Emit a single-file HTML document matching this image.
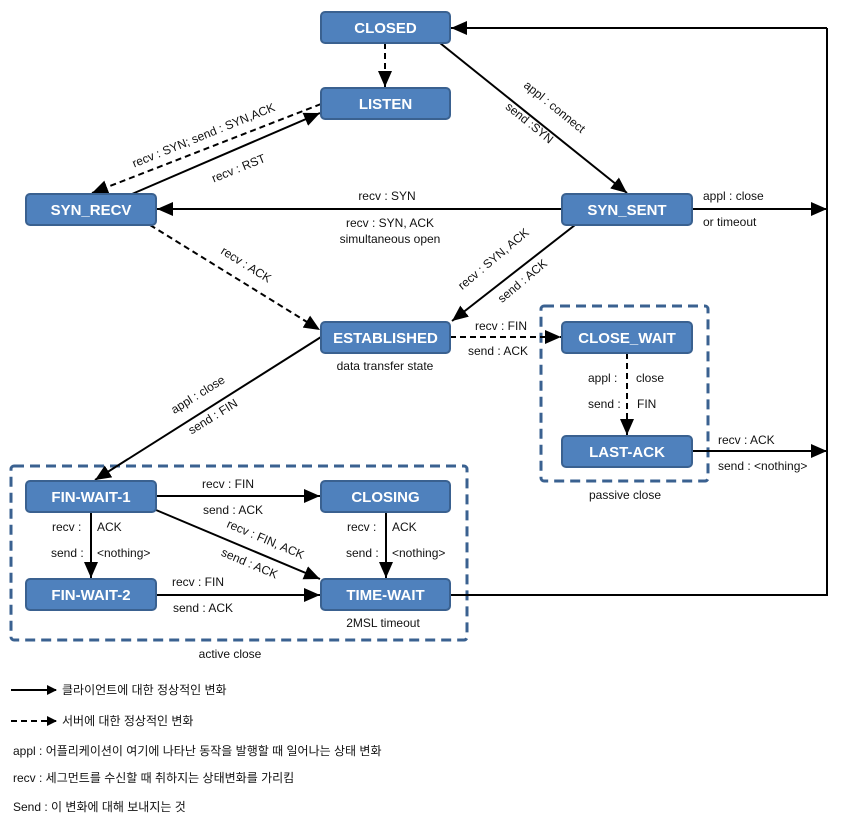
<!DOCTYPE html>
<html><head><meta charset="utf-8"><style>
body{margin:0;background:#fff;}
svg{display:block;}
text{font-family:"Liberation Sans","Noto Sans CJK KR",sans-serif;font-size:12px;fill:#111;}
.b{fill:#4f81bd;stroke:#3a6190;stroke-width:2;}
.bt{font-size:15px;font-weight:bold;fill:#fff;text-anchor:middle;}
.l{stroke:#000;stroke-width:2;fill:none;}
.d{stroke:#000;stroke-width:2;fill:none;stroke-dasharray:6,4;}
.g{stroke:#3a6190;stroke-width:3;fill:none;stroke-dasharray:10,6;}
.c{text-anchor:middle;}
</style></head><body>
<svg width="850" height="840" viewBox="0 0 850 840">
<defs><marker id="a" markerWidth="10" markerHeight="10" refX="9" refY="5" orient="auto" markerUnits="userSpaceOnUse" viewBox="0 0 10 10"><path d="M0,0 L10,5 L0,10 z" fill="#000"/></marker>
<marker id="m" markerWidth="16" markerHeight="14" refX="16" refY="7" orient="auto" markerUnits="userSpaceOnUse"><path d="M0,0 L16,7 L0,14 z" fill="#000"/></marker></defs>

<rect class="g" x="541" y="306" width="167" height="175" rx="3"/>
<rect class="g" x="11" y="466" width="456" height="174" rx="3"/>

<line class="d" x1="385" y1="43" x2="385" y2="87" marker-end="url(#m)"/>
<line class="d" x1="321" y1="104" x2="92" y2="193" marker-end="url(#m)"/>
<line class="l" x1="132" y1="194" x2="320" y2="113" marker-end="url(#m)"/>
<line class="l" x1="440" y1="43" x2="627" y2="193" marker-end="url(#m)"/>
<line class="l" x1="562" y1="209" x2="157" y2="209" marker-end="url(#m)"/>
<line class="l" x1="692" y1="209" x2="827" y2="209" marker-end="url(#m)"/>
<line class="d" x1="150" y1="225" x2="320" y2="330" marker-end="url(#m)"/>
<line class="l" x1="575" y1="225" x2="452" y2="321" marker-end="url(#m)"/>
<line class="d" x1="450" y1="337" x2="561" y2="337" marker-end="url(#m)"/>
<line class="d" x1="627" y1="353" x2="627" y2="435" marker-end="url(#m)"/>
<line class="l" x1="692" y1="451" x2="827" y2="451" marker-end="url(#m)"/>
<line class="l" x1="321" y1="337" x2="95" y2="480" marker-end="url(#m)"/>
<line class="l" x1="156" y1="496" x2="320" y2="496" marker-end="url(#m)"/>
<line class="l" x1="91" y1="512" x2="91" y2="578" marker-end="url(#m)"/>
<line class="l" x1="156" y1="510" x2="320" y2="579" marker-end="url(#m)"/>
<line class="l" x1="386" y1="512" x2="386" y2="578" marker-end="url(#m)"/>
<line class="l" x1="156" y1="595" x2="320" y2="595" marker-end="url(#m)"/>
<polyline class="l" points="450,595 827,595 827,28"/>
<line class="l" x1="827" y1="28" x2="451" y2="28" marker-end="url(#m)"/>

<g>
<rect class="b" x="321" y="12" width="129" height="31" rx="4"/><text class="bt" x="385.5" y="33">CLOSED</text>
<rect class="b" x="321" y="88" width="129" height="31" rx="4"/><text class="bt" x="385.5" y="109">LISTEN</text>
<rect class="b" x="26" y="194" width="130" height="31" rx="4"/><text class="bt" x="91" y="215">SYN_RECV</text>
<rect class="b" x="562" y="194" width="130" height="31" rx="4"/><text class="bt" x="627" y="215">SYN_SENT</text>
<rect class="b" x="321" y="322" width="129" height="31" rx="4"/><text class="bt" x="385.5" y="343">ESTABLISHED</text>
<rect class="b" x="562" y="322" width="130" height="31" rx="4"/><text class="bt" x="627" y="343">CLOSE_WAIT</text>
<rect class="b" x="562" y="436" width="130" height="31" rx="4"/><text class="bt" x="627" y="457">LAST-ACK</text>
<rect class="b" x="26" y="481" width="130" height="31" rx="4"/><text class="bt" x="91" y="502">FIN-WAIT-1</text>
<rect class="b" x="321" y="481" width="129" height="31" rx="4"/><text class="bt" x="385.5" y="502">CLOSING</text>
<rect class="b" x="26" y="579" width="130" height="31" rx="4"/><text class="bt" x="91" y="600">FIN-WAIT-2</text>
<rect class="b" x="321" y="579" width="129" height="31" rx="4"/><text class="bt" x="385.5" y="600">TIME-WAIT</text>
</g>

<text class="c" transform="translate(205,139) rotate(-22)">recv : SYN; send : SYN,ACK</text>
<text class="c" transform="translate(240,172) rotate(-22)">recv : RST</text>
<text class="c" transform="translate(552,110) rotate(39)">appl : connect</text>
<text class="c" transform="translate(527,126) rotate(39)">send :SYN</text>
<text class="c" x="387" y="200">recv : SYN</text>
<text class="c" x="390" y="227">recv : SYN, ACK</text>
<text class="c" x="390" y="243">simultaneous open</text>
<text x="703" y="200">appl : close</text>
<text x="703" y="226">or timeout</text>
<text class="c" transform="translate(244,268) rotate(32)">recv : ACK</text>
<text class="c" transform="translate(496,262) rotate(-40)">recv : SYN, ACK</text>
<text class="c" transform="translate(525,284) rotate(-40)">send : ACK</text>
<text x="475" y="330">recv : FIN</text>
<text x="468" y="355">send : ACK</text>
<text class="c" x="385" y="370">data transfer state</text>
<text x="588" y="382">appl :</text><text x="636" y="382">close</text>
<text x="588" y="408">send :</text><text x="637" y="408">FIN</text>
<text x="718" y="444">recv : ACK</text>
<text x="718" y="470">send : &lt;nothing&gt;</text>
<text class="c" x="625" y="499">passive close</text>
<text class="c" transform="translate(200,398) rotate(-32)">appl : close</text>
<text class="c" transform="translate(215,420) rotate(-32)">send : FIN</text>
<text x="202" y="488">recv : FIN</text>
<text x="203" y="514">send : ACK</text>
<text x="52" y="531">recv :</text><text x="97" y="531">ACK</text>
<text x="51" y="557">send :</text><text x="97" y="557">&lt;nothing&gt;</text>
<text class="c" transform="translate(264,543) rotate(23)">recv : FIN, ACK</text>
<text class="c" transform="translate(248,567) rotate(23)">send : ACK</text>
<text x="347" y="531">recv :</text><text x="392" y="531">ACK</text>
<text x="346" y="557">send :</text><text x="392" y="557">&lt;nothing&gt;</text>
<text x="172" y="586">recv : FIN</text>
<text x="173" y="612">send : ACK</text>
<text class="c" x="383" y="627">2MSL timeout</text>
<text class="c" x="230" y="658">active close</text>

<line class="l" x1="11" y1="690" x2="56" y2="690" marker-end="url(#a)"/>
<text x="62" y="694">클라이언트에 대한 정상적인 변화</text>
<line class="d" x1="11" y1="721" x2="56" y2="721" marker-end="url(#a)"/>
<text x="62" y="725">서버에 대한 정상적인 변화</text>
<text x="13" y="755">appl  :  어플리케이션이 여기에 나타난 동작을 발행할 때 일어나는 상태 변화</text>
<text x="13" y="782">recv  :  세그먼트를 수신할 때 취하지는 상태변화를 가리킴</text>
<text x="13" y="811">Send :  이 변화에 대해 보내지는 것</text>
</svg>
</body></html>
